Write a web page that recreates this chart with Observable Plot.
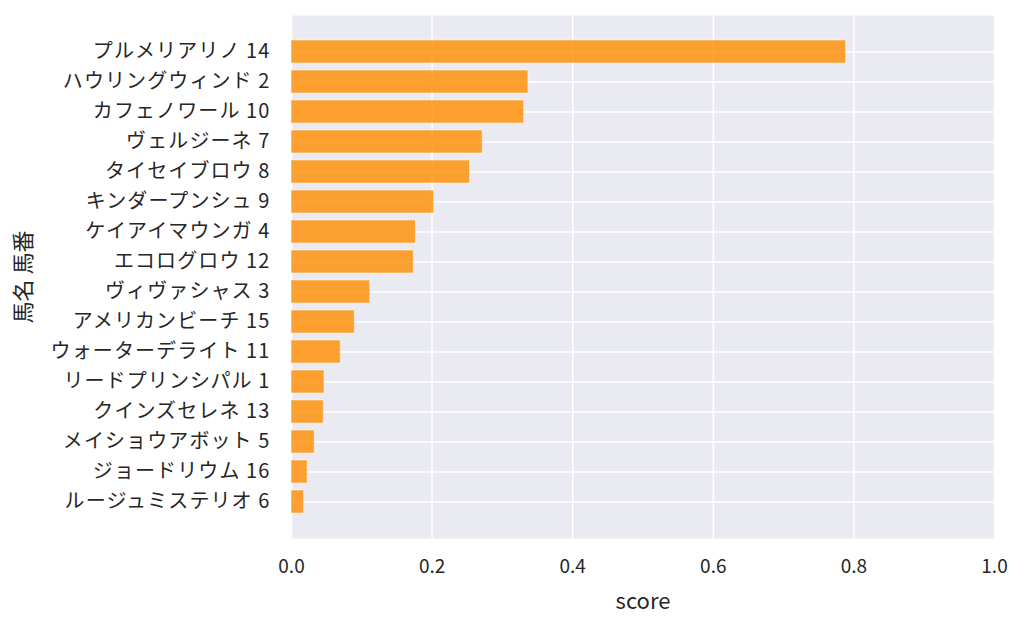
<!DOCTYPE html>
<html><head><meta charset="utf-8">
<script src="https://cdn.jsdelivr.net/npm/d3@7"></script>
<script src="https://cdn.jsdelivr.net/npm/@observablehq/plot@0.6"></script>
<style>body{margin:0;background:#fff;font-family:"Noto Sans CJK JP","Noto Sans",sans-serif}</style>
</head><body><div id="chart"></div>
<script>
const names = ["プルメリアリノ 14","ハウリングウィンド 2","カフェノワール 10","ヴェルジーネ 7","タイセイブロウ 8","キンダープンシュ 9","ケイアイマウンガ 4","エコログロウ 12","ヴィヴァシャス 3","アメリカンビーチ 15","ウォーターデライト 11","リードプリンシパル 1","クインズセレネ 13","メイショウアボット 5","ジョードリウム 16","ルージュミステリオ 6"];
const scores = [0.789,0.337,0.331,0.272,0.254,0.203,0.177,0.174,0.112,0.090,0.070,0.047,0.046,0.033,0.023,0.018];
const xTicks = [0,0.2,0.4,0.6,0.8,1.0];
const data = names.map((n,i)=>({name:n, score:scores[i]}));
const chart = Plot.plot({
  width:1024, height:627,
  marginLeft:291, marginRight:30, marginTop:15, marginBottom:89,
  style:{fontFamily:'"Noto Sans CJK JP","Noto Sans",sans-serif', color:"#262626", background:"#fff"},
  x:{domain:[0,1]},
  y:{domain:names, paddingInner:0.25, paddingOuter:0.775},
  marks:[
    Plot.frame({fill:"#eaeaf2", stroke:null}),
    Plot.ruleX(xTicks, {stroke:"#fff", strokeWidth:1.5}),
    Plot.ruleY(names, {stroke:"#fff", strokeWidth:1.5}),
    Plot.barX(data, {x:"score", y:"name", fill:"darkorange", fillOpacity:0.8, stroke:"#fff", strokeOpacity:0.5, strokeWidth:1}),
    Plot.axisX({ticks:xTicks, tickFormat:d3.format(".1f"), tickSize:0, tickPadding:21, fontSize:19, label:"score", labelAnchor:"center", labelArrow:"none", labelOffset:70}),
    Plot.axisY({tickSize:0, tickPadding:21, fontSize:20, label:"馬名 馬番", labelAnchor:"center", labelArrow:"none", labelOffset:276})
  ]
});
document.getElementById("chart").append(chart);
d3.select(chart).selectAll('g[aria-label="y-axis tick label"] text').style("letter-spacing","1.1px");
d3.select(chart).selectAll('g[aria-label="x-axis label"] text, g[aria-label="y-axis label"] text').style("font-size","22px");
</script></body></html>
